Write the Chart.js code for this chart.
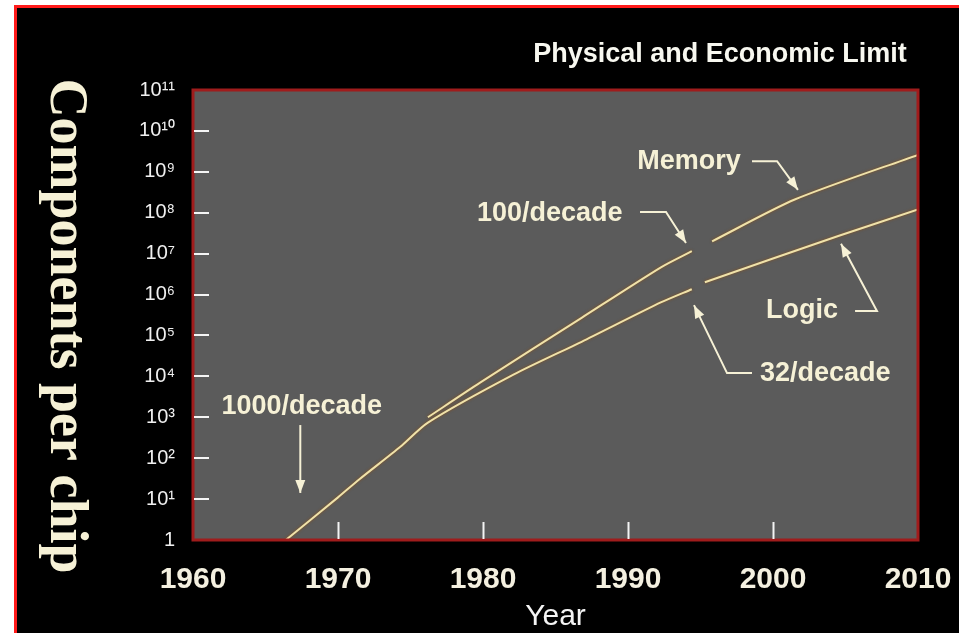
<!DOCTYPE html>
<html>
<head>
<meta charset="utf-8">
<script src="https://cdn.jsdelivr.net/npm/chart.js@4.4.1/dist/chart.umd.min.js"></script>
<style>
  html, body { margin: 0; padding: 0; background: #fff; }
  #wrap { width: 959px; height: 633px; }
</style>
</head>
<body>
<div id="wrap"><canvas id="myChart" width="959" height="633"></canvas></div>
<script>
// values (years, components per chip)
var logicYears  = [1966.4, 1970.0, 1971.5, 1974.3, 1976.2, 1982.1, 1986.8, 1992.3, 1994.4, 1994.9, 1995.3, 2004.5, 2010]
var logicValues = [1, 11, 31, 190, 740, 1.1e4, 7e4, 6.5e5, 1.35e6, null, 2e6, 2.7e7, 1.2e8]
var memoryYears  = [1976.2, 1979.8, 1986.8, 1992.3, 1994.4, 1995.1, 1995.8, 2001.5, 2010]
var memoryValues = [1.0e3, 7e3, 2.7e5, 4.7e6, 1.15e7, null, 2e7, 2.1e8, 2.6e9]
var yearTicks = [1960, 1970, 1980, 1990, 2000, 2010]
var exponents = [0, 1, 2, 3, 4, 5, 6, 7, 8, 9, 10, 11]

// labels with arrows: text anchor [year, exponent], arrow path in [year, exponent]
var notes = [
  {text: '1000/decade', at: [1967.5, 3.25], path: [[1967.4, 2.81], [1967.4, 1.15]]},
  {text: 'Memory', at: [1994.2, 9.24], path: [[1998.55, 9.26], [2000.28, 9.26], [2001.72, 8.56]]},
  {text: '100/decade', at: [1984.6, 7.99], path: [[1990.83, 8.02], [1992.62, 8.02], [1994.0, 7.26]]},
  {text: 'Logic', at: [2002.0, 5.60], path: [[2005.66, 5.60], [2007.17, 5.60], [2004.69, 7.24]]},
  {text: '32/decade', at: [2003.6, 4.06], path: [[1998.55, 4.08], [1996.83, 4.08], [1994.55, 5.74]]}
]

var sup = '⁰¹²³⁴⁵⁶⁷⁸⁹'
function expLabel(v) {
  var e = Math.round(Math.log10(v))
  if (e == 0) return '1'
  return '10' + String(e).split('').map(function(d) { return sup[+d] }).join('')
}

function toPoints(xs, ys) {
  return xs.map(function(x, i) { return {x: x, y: ys[i]} })
}

var cream = '#f6f1d6'

var framePlugin = {
  id: 'frame',
  beforeDraw: function(chart) {
    var ctx = chart.ctx, a = chart.chartArea
    ctx.save()
    ctx.fillStyle = '#ffffff'
    ctx.fillRect(0, 0, chart.width, chart.height)
    ctx.fillStyle = '#000000'
    ctx.fillRect(15, 6, chart.width - 15, chart.height - 6)
    ctx.fillStyle = '#ff1a1a'
    ctx.fillRect(14, 5, chart.width - 14, 3)
    ctx.fillRect(14, 5, 3, chart.height - 5)
    ctx.fillStyle = '#5b5b5b'
    ctx.fillRect(a.left, a.top, a.right - a.left, a.bottom - a.top)
    ctx.restore()
  },
  beforeDatasetsDraw: function(chart) {
    chart.ctx.save()
    chart.ctx.shadowColor = 'rgba(140,80,20,0.9)'
    chart.ctx.shadowBlur = 3
  },
  afterDatasetsDraw: function(chart) {
    chart.ctx.restore()
  },
  afterDraw: function(chart) {
    var ctx = chart.ctx, a = chart.chartArea
    var xs = chart.scales.x, ys = chart.scales.y
    ctx.save()
    // plot border
    ctx.strokeStyle = '#a01c1c'
    ctx.lineWidth = 3
    ctx.strokeRect(a.left, a.top, a.right - a.left, a.bottom - a.top)
    // inner tick marks
    ctx.strokeStyle = '#f4f4f4'
    ctx.lineWidth = 2
    yearTicks.slice(1, -1).forEach(function(yr) {
      var px = Math.round(xs.getPixelForValue(yr)) + 0.5
      ctx.beginPath(); ctx.moveTo(px, a.bottom - 18); ctx.lineTo(px, a.bottom - 1); ctx.stroke()
    })
    exponents.slice(1, -1).forEach(function(e) {
      var py = Math.round(ys.getPixelForValue(Math.pow(10, e)))
      ctx.beginPath(); ctx.moveTo(a.left + 1, py); ctx.lineTo(a.left + 16, py); ctx.stroke()
    })
    // annotations
    ctx.font = 'bold 27px "Liberation Sans", Arial, sans-serif'
    ctx.textAlign = 'center'
    ctx.textBaseline = 'middle'
    ctx.fillStyle = cream
    ctx.strokeStyle = cream
    notes.forEach(function(n) {
      ctx.fillText(n.text, xs.getPixelForValue(n.at[0]), ys.getPixelForValue(Math.pow(10, n.at[1])))
      var pts = n.path.map(function(p) {
        return [xs.getPixelForValue(p[0]), ys.getPixelForValue(Math.pow(10, p[1]))]
      })
      ctx.lineWidth = 2
      ctx.beginPath()
      pts.forEach(function(p, i) { if (i == 0) ctx.moveTo(p[0], p[1]); else ctx.lineTo(p[0], p[1]) })
      ctx.stroke()
      var end = pts[pts.length - 1], prev = pts[pts.length - 2]
      var ang = Math.atan2(end[1] - prev[1], end[0] - prev[0])
      ctx.beginPath()
      ctx.moveTo(end[0], end[1])
      ctx.lineTo(end[0] - 13 * Math.cos(ang) + 5 * Math.sin(ang), end[1] - 13 * Math.sin(ang) - 5 * Math.cos(ang))
      ctx.lineTo(end[0] - 13 * Math.cos(ang) - 5 * Math.sin(ang), end[1] - 13 * Math.sin(ang) + 5 * Math.cos(ang))
      ctx.closePath()
      ctx.fill()
    })
    // title
    ctx.font = 'bold 27px "Liberation Sans", Arial, sans-serif'
    ctx.fillStyle = '#f8f8f0'
    ctx.fillText('Physical and Economic Limit', 720, 55)
    // y axis title, reading downwards
    ctx.translate(51, 326)
    ctx.rotate(Math.PI / 2)
    ctx.font = 'bold 54px "Liberation Serif", "Times New Roman", serif'
    ctx.textBaseline = 'alphabetic'
    ctx.fillStyle = cream
    ctx.fillText('Components per chip', 0, 0)
    ctx.restore()
  }
}

var lineStyle = {borderColor: '#efe2aa', borderWidth: 2, pointRadius: 0, tension: 0.25, spanGaps: false, fill: false}

var ctx = document.getElementById('myChart').getContext('2d')
var myChart = new Chart(ctx, {
  type: 'line',
  data: {
    datasets: [
      Object.assign({label: 'Memory', data: toPoints(memoryYears, memoryValues)}, lineStyle),
      Object.assign({label: 'Logic', data: toPoints(logicYears, logicValues)}, lineStyle)
    ]
  },
  options: {
    responsive: false,
    animation: false,
    events: [],
    layout: {padding: {top: 90, right: 41, left: 0, bottom: 0}},
    plugins: {legend: {display: false}, tooltip: {enabled: false}},
    scales: {
      x: {
        type: 'linear',
        min: 1960, max: 2010,
        afterBuildTicks: function(s) { s.ticks = yearTicks.map(function(v) { return {value: v} }) },
        afterFit: function(s) { s.height = 93; s.paddingLeft = 0; s.paddingRight = 0 },
        grid: {display: false},
        border: {display: false},
        ticks: {
          color: '#f4f0e0', padding: 14,
          font: {family: '"Liberation Sans", Arial, sans-serif', size: 30, weight: 'bold'},
          maxRotation: 0,
          callback: function(v) { return String(v) }
        },
        title: {
          display: true, text: 'Year', color: '#f4f4f4', padding: {top: 0, bottom: -2},
          font: {family: '"Liberation Sans", Arial, sans-serif', size: 30}
        }
      },
      y: {
        type: 'logarithmic',
        min: 1, max: 1e11,
        afterBuildTicks: function(s) { s.ticks = exponents.map(function(e) { return {value: Math.pow(10, e)} }) },
        afterFit: function(s) { s.width = 193; s.paddingTop = 0; s.paddingBottom = 0 },
        grid: {display: false},
        border: {display: false},
        ticks: {
          color: '#f0f0f0', padding: 10,
          font: {family: '"Liberation Sans", Arial, sans-serif', size: 20},
          callback: function(v) { return expLabel(v) }
        }
      }
    }
  },
  plugins: [framePlugin]
})
</script>
</body>
</html>
